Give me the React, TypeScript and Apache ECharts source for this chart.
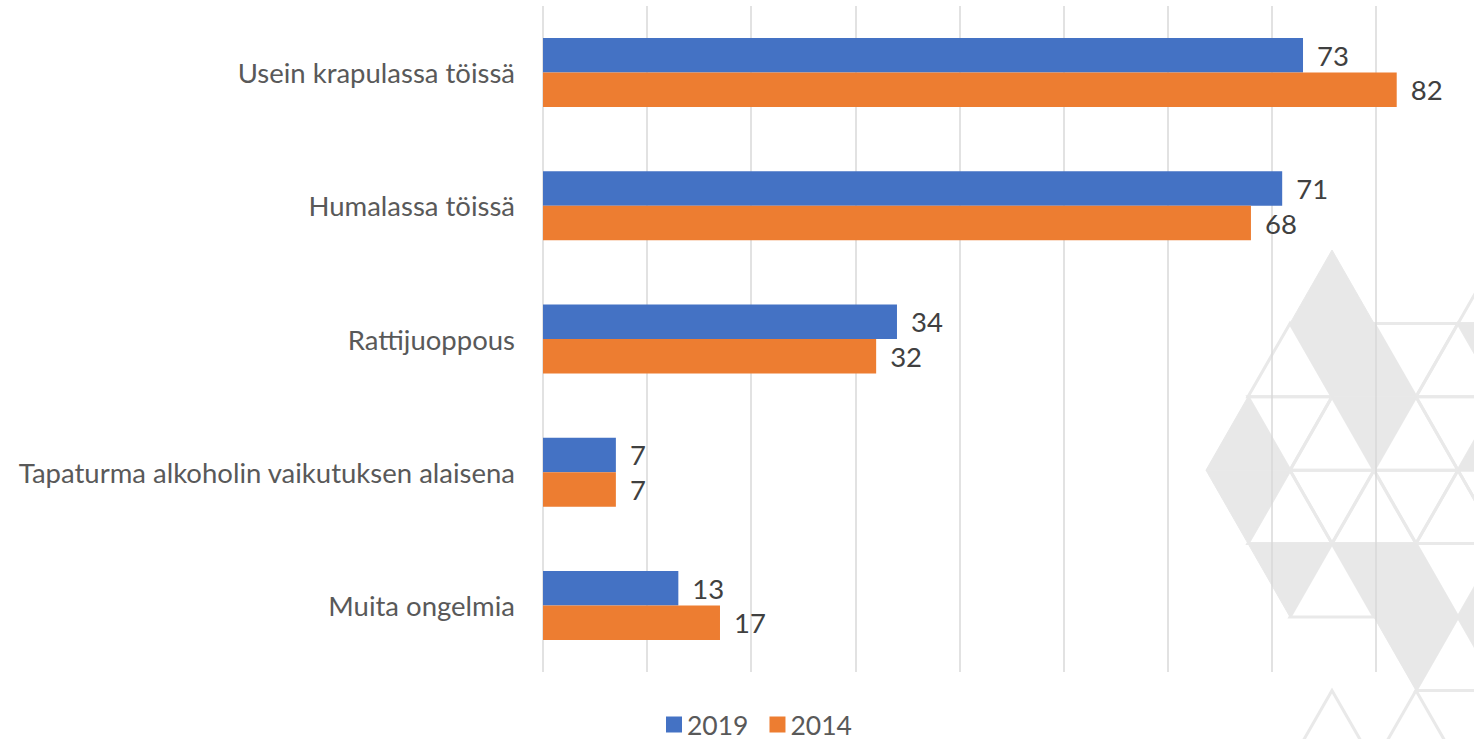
import React, { useEffect, useRef } from "react";
import * as echarts from "echarts";

const categories = [
  "Usein krapulassa töissä",
  "Humalassa töissä",
  "Rattijuoppous",
  "Tapaturma alkoholin vaikutuksen alaisena",
  "Muita ongelmia",
];
const seriesNames = ["2019", "2014"];
const values2019 = [73, 71, 34, 7, 13];
const values2014 = [82, 68, 32, 7, 17];

// decorative watermark lattice: [kind, column, row]
const filledTriangles: [string, number, number][] = [
  ["U", 0, 0], ["D", 0, 1], ["U", 1, 1], ["D", 1, 2],
  ["D", 4, 1], ["U", 4, 2],
  ["U", -2, 2], ["D", -2, 3], ["D", -1, 4],
  ["D", 1, 4], ["U", 2, 4], ["D", 2, 5],
  ["U", 4, 4], ["D", 4, 5],
];
const outlinedTriangles: [string, number, number][] = [
  ["U", 4, 0], ["U", -1, 1], ["D", 2, 1], ["U", 3, 1],
  ["D", -1, 2], ["U", 0, 2], ["U", 2, 2], ["D", 3, 2],
  ["U", -1, 3], ["D", 0, 3], ["U", 1, 3], ["D", 2, 3], ["U", 3, 3], ["D", 4, 3],
  ["U", 0, 4], ["D", 3, 4], ["U", 3, 5],
  ["U", 0, 6], ["U", 2, 6],
];

const FONT = "Lato, 'Open Sans', sans-serif";

function triPoints(kind: string, c: number, r: number): number[][] {
  const ox = 1332, oy = 250, hx = 42, hy = 73.4;
  const P = (cc: number, rr: number) => [ox + hx * cc, oy + hy * rr];
  if (kind === "U") return [P(c, r), P(c - 1, r + 1), P(c + 1, r + 1)];
  return [P(c - 1, r), P(c + 1, r), P(c, r + 1)];
}

export default function App() {
  const ref = useRef<HTMLDivElement>(null);
  useEffect(() => {
    if (!ref.current) return;
    const chart = echarts.init(ref.current, undefined, { renderer: "svg" });
    const graphics: any[] = [];
    outlinedTriangles.forEach(([k, c, r]) => {
      graphics.push({
        type: "polygon",
        z: -10,
        silent: true,
        shape: { points: triPoints(k, c, r) },
        style: { fill: "none", stroke: "#e9e9e9", lineWidth: 3 },
      });
    });
    filledTriangles.forEach(([k, c, r]) => {
      graphics.push({
        type: "polygon",
        z: -9,
        silent: true,
        shape: { points: triPoints(k, c, r) },
        style: { fill: "#e8e8e8", stroke: "#e8e8e8", lineWidth: 1 },
      });
    });
    const labelStyle = {
      show: true,
      position: "right",
      distance: 14,
      fontFamily: FONT,
      fontSize: 27.5,
      color: "#404040",
    };
    chart.setOption({
      animation: false,
      backgroundColor: "#ffffff",
      graphic: { z: -10, elements: graphics },
      legend: {
        data: seriesNames,
        left: 666,
        top: 711,
        padding: 0,
        itemWidth: 16,
        itemHeight: 16,
        itemGap: 21,
        icon: "rect",
        textStyle: { fontFamily: FONT, fontSize: 26.5, lineHeight: 26, color: "#595959" },
      },
      grid: { left: 543, top: 6, width: 937, height: 666, containLabel: false },
      xAxis: {
        type: "value",
        min: 0,
        max: 90,
        interval: 10,
        z: 1,
        axisLabel: { show: false },
        axisLine: { show: false },
        axisTick: { show: false },
        splitLine: { show: true, lineStyle: { color: "#d9d9d9", width: 1.5 } },
      },
      yAxis: {
        type: "category",
        data: categories,
        inverse: true,
        axisLine: { show: false },
        axisTick: { show: false },
        splitLine: { show: false },
        axisLabel: {
          margin: 28,
          fontFamily: FONT,
          fontSize: 27.5,
          color: "#595959",
        },
      },
      series: [
        {
          name: seriesNames[0],
          type: "bar",
          data: values2019,
          barWidth: 34.5,
          barGap: "0%",
          itemStyle: { color: "#4472C4" },
          label: labelStyle,
        },
        {
          name: seriesNames[1],
          type: "bar",
          data: values2014,
          barWidth: 34.5,
          barGap: "0%",
          itemStyle: { color: "#ED7D31" },
          label: labelStyle,
        },
      ],
    });
    return () => chart.dispose();
  }, []);
  return (
    <div
      ref={ref}
      style={{ position: "fixed", left: 0, top: 0, width: 1500, height: 739 }}
    />
  );
}
